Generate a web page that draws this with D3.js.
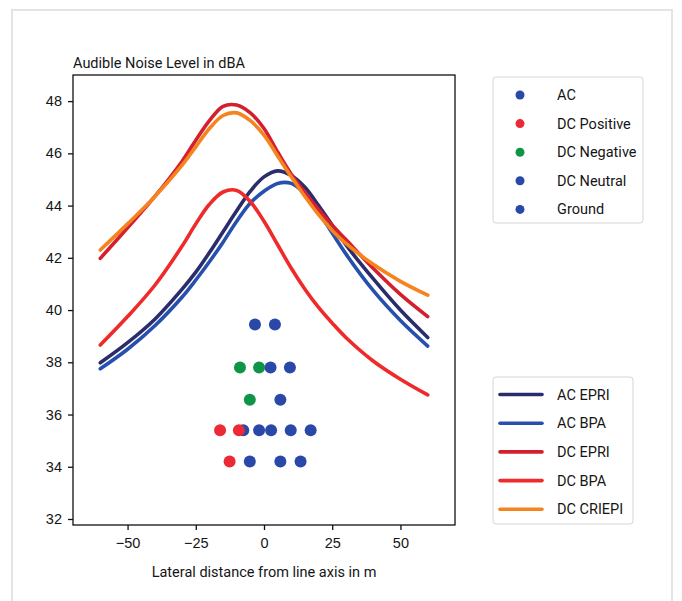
<!DOCTYPE html>
<html>
<head>
<meta charset="utf-8">
<style>
    body { margin: 0; background: #fff; }
    svg { display: block; font-family: Roboto, "Liberation Sans", sans-serif; }
    .axis text { font-size: 14.5px; fill: #151515; }
    .axis path, .axis line { stroke: #111; stroke-width: 1.3px; }
    .legend text { font-size: 14.5px; fill: #151515; }
</style>
</head>
<body>
<svg id="chart" width="682" height="601"></svg>
<script src="https://d3js.org/d3.v7.min.js"></script>
<script>
    // lateral positions (m) where the curves were read
    var xs = [-60, -50, -40, -30, -25, -20, -15, -10, -5, 0, 5, 10, 15, 20, 25, 30, 40, 50, 60];

    var acEpri   = [37.98, 38.75, 39.65, 40.8, 41.45, 42.2, 43.0, 43.8, 44.55, 45.1, 45.33, 45.15, 44.7, 44.0, 43.25, 42.5, 41.2, 40.0, 38.95];
    var acBpa    = [37.75, 38.5, 39.4, 40.5, 41.15, 41.85, 42.6, 43.4, 44.1, 44.55, 44.85, 44.85, 44.45, 43.75, 42.95, 42.15, 40.75, 39.6, 38.62];
    var dcEpri   = [41.98, 43.15, 44.35, 45.7, 46.5, 47.25, 47.8, 47.85, 47.55, 46.95, 46.05, 45.2, 44.5, 43.85, 43.25, 42.7, 41.6, 40.6, 39.75];
    var dcBpa    = [38.66, 39.75, 40.95, 42.45, 43.3, 44.05, 44.52, 44.58, 44.15, 43.4, 42.5, 41.6, 40.8, 40.1, 39.5, 38.95, 38.05, 37.35, 36.75];
    var dcCriepi = [42.3, 43.3, 44.35, 45.55, 46.25, 46.95, 47.45, 47.55, 47.25, 46.7, 45.9, 45.1, 44.35, 43.65, 43.05, 42.55, 41.75, 41.1, 40.57];

    // conductor positions [x, dBA]
    var acPts       = [[2.4, 37.8], [9.5, 37.8], [-7.6, 35.4], [-1.8, 35.4], [2.6, 35.4], [9.8, 35.4], [17.1, 35.4], [-5.2, 34.2], [6.0, 34.2], [13.4, 34.2]];
    var dcPosPts    = [[-16.1, 35.4], [-9.2, 35.4], [-12.6, 34.2]];
    var dcNegPts    = [[-8.8, 37.8], [-1.8, 37.8], [-5.2, 36.57]];
    var dcNeutPts   = [[6.0, 36.57]];
    var groundPts   = [[-3.3, 39.45], [4.0, 39.45]];

    var yTicks = [32, 34, 36, 38, 40, 42, 44, 46, 48];
    var xTicks = [-50, -25, 0, 25, 50];

    var lineSeries = [
        {name: "AC EPRI", values: acEpri, color: "#2a2c6c"},
        {name: "AC BPA", values: acBpa, color: "#2750ae"},
        {name: "DC EPRI", values: dcEpri, color: "#d4202e"},
        {name: "DC BPA", values: dcBpa, color: "#ef2a2a"},
        {name: "DC CRIEPI", values: dcCriepi, color: "#f5841f"}
    ];
    var pointSeries = [
        {name: "AC", values: acPts, color: "#2a48a8"},
        {name: "DC Positive", values: dcPosPts, color: "#ec2a36"},
        {name: "DC Negative", values: dcNegPts, color: "#109548"},
        {name: "DC Neutral", values: dcNeutPts, color: "#2a48a8"},
        {name: "Ground", values: groundPts, color: "#2a48a8"}
    ];

    var svg = d3.select("#chart");

    // light frame around the whole figure
    svg.append("rect")
        .attr("x", 12).attr("y", 10)
        .attr("width", 660).attr("height", 600)
        .attr("fill", "none")
        .attr("stroke", "#e4e4e4")
        .attr("stroke-width", 2);

    var plotL = 73, plotR = 455, plotT = 75, plotB = 525;

    var x = d3.scaleLinear().domain([-70, 70]).range([plotL, plotR]);
    var y = d3.scaleLinear().domain([31.77, 49.0]).range([plotB, plotT]);

    var g = svg.append("g");

    var line = d3.line()
        .x(function (d) { return x(d[0]); })
        .y(function (d) { return y(d[1]); })
        .curve(d3.curveCatmullRom.alpha(0.5));

    g.selectAll("path.curve")
        .data(lineSeries)
        .enter().append("path")
        .attr("class", "curve")
        .attr("fill", "none")
        .attr("stroke", function (d) { return d.color; })
        .attr("stroke-width", 3.6)
        .attr("stroke-linecap", "round")
        .attr("d", function (d) {
            return line(xs.map(function (v, i) { return [v, d.values[i]]; }));
        });

    pointSeries.forEach(function (s) {
        g.selectAll(null)
            .data(s.values)
            .enter().append("circle")
            .attr("cx", function (d) { return x(d[0]); })
            .attr("cy", function (d) { return y(d[1]); })
            .attr("r", 6)
            .attr("fill", s.color);
    });

    // frame
    svg.append("rect")
        .attr("x", plotL).attr("y", plotT)
        .attr("width", plotR - plotL).attr("height", plotB - plotT)
        .attr("fill", "none")
        .attr("stroke", "#111")
        .attr("stroke-width", 1.3);

    var xAxis = svg.append("g")
        .attr("class", "axis")
        .attr("transform", "translate(0," + plotB + ")")
        .call(d3.axisBottom(x).tickValues(xTicks).tickSize(5).tickPadding(8)
            .tickFormat(function (d) { return d < 0 ? "\u2212" + Math.abs(d) : d; }));
    xAxis.select(".domain").remove();

    var yAxis = svg.append("g")
        .attr("class", "axis")
        .attr("transform", "translate(" + plotL + ",0)")
        .call(d3.axisLeft(y).tickValues(yTicks).tickSize(5).tickPadding(6));
    yAxis.select(".domain").remove();

    svg.append("text")
        .attr("x", plotL).attr("y", 68)
        .attr("font-size", 14.5)
        .attr("fill", "#151515")
        .text("Audible Noise Level in dBA");

    svg.append("text")
        .attr("x", x(0)).attr("y", 577)
        .attr("text-anchor", "middle")
        .attr("font-size", 14.5)
        .attr("fill", "#151515")
        .text("Lateral distance from line axis in m");

    // legend for the points
    var leg1 = svg.append("g").attr("class", "legend");
    leg1.append("rect")
        .attr("x", 493).attr("y", 77)
        .attr("width", 150).attr("height", 146)
        .attr("rx", 3)
        .attr("fill", "#fff").attr("stroke", "#d6d6d6");
    pointSeries.forEach(function (s, i) {
        var yy = 95 + i * 28.6;
        leg1.append("circle").attr("cx", 520).attr("cy", yy).attr("r", 4.5).attr("fill", s.color);
        leg1.append("text").attr("x", 557).attr("y", yy + 5).text(s.name);
    });

    // legend for the curves
    var leg2 = svg.append("g").attr("class", "legend");
    leg2.append("rect")
        .attr("x", 493).attr("y", 377)
        .attr("width", 140).attr("height", 147)
        .attr("rx", 3)
        .attr("fill", "#fff").attr("stroke", "#d6d6d6");
    lineSeries.forEach(function (s, i) {
        var yy = 394.5 + i * 28.7;
        leg2.append("line")
            .attr("x1", 500).attr("x2", 542)
            .attr("y1", yy).attr("y2", yy)
            .attr("stroke", s.color)
            .attr("stroke-width", 3.6)
            .attr("stroke-linecap", "round");
        leg2.append("text").attr("x", 557).attr("y", yy + 5).text(s.name);
    });
</script>
</body>
</html>
